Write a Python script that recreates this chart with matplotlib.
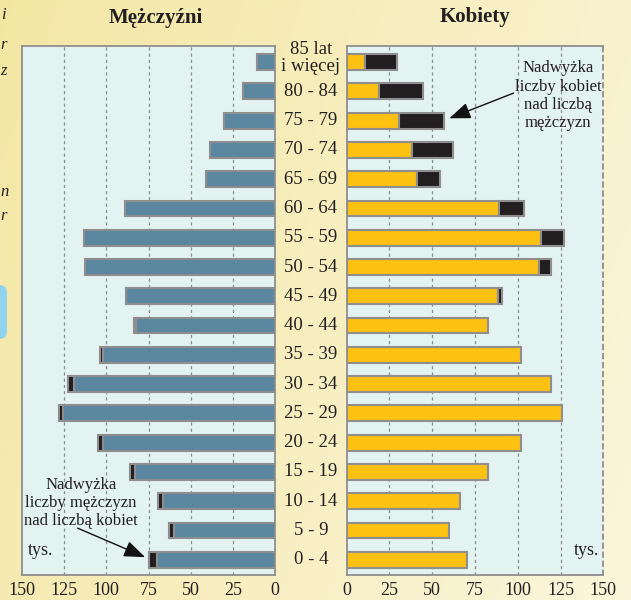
import matplotlib.pyplot as plt
import matplotlib.transforms as mtransforms
import numpy as np
from matplotlib.patches import FancyBboxPatch

# age groups, youngest first
AGES = ['0 - 4', '5 - 9', '10 - 14', '15 - 19', '20 - 24', '25 - 29', '30 - 34',
        '35 - 39', '40 - 44', '45 - 49', '50 - 54', '55 - 59', '60 - 64',
        '65 - 69', '70 - 74', '75 - 79', '80 - 84', '85 lat\ni więcej']
# thousands
MEN = [74.5, 63, 69.3, 85.9, 105.2, 128, 122.7, 104, 83.5, 88.2,
       112.5, 113.5, 88.8, 41, 38.4, 30.5, 19, 10.7]
WOMEN = [70.1, 59.9, 66.4, 82.8, 101.9, 125.6, 119.3, 101.9, 82.4, 91,
         119.7, 127.1, 103.7, 54.7, 62.3, 56.8, 44.7, 29.6]
TICKS = [0, 25, 50, 75, 100, 125, 150]

BLUE = '#5b86a0'
YELLOW = '#fdc112'
BLACK = '#231f20'
EDGE = '#8e8e8e'
PANEL = '#e3f3f2'
INK = '#231f20'
SERIF = ['Liberation Serif', 'DejaVu Serif']

plt.rcParams['font.family'] = SERIF

W, H = 631, 600
fig = plt.figure(figsize=(W / 100, H / 100), dpi=100)

# cream gradient background
bg = fig.add_axes([0, 0, 1, 1], zorder=-10)
gx = np.linspace(0, 1, 200)
GX, GY = np.meshgrid(gx, gx)
t = np.clip(0.75 * GX + 0.25 * GY, 0, 1)
c0 = np.array([0.955, 0.905, 0.64])
c1 = np.array([0.985, 0.962, 0.86])
img = c0[None, None, :] * (1 - t[..., None]) + c1[None, None, :] * t[..., None]
bg.imshow(img, extent=[0, 1, 0, 1], aspect='auto', origin='upper')
bg.set_axis_off()
# bits of the page that show at the left edge
bg.add_patch(FancyBboxPatch((-0.02, 0.44), 0.026, 0.08,
                            boxstyle='round,pad=0.005,rounding_size=0.012',
                            fc='#8fd3ef', ec='none', transform=bg.transAxes))
for yy, ch in [(0.975, 'i'), (0.925, 'r'), (0.882, 'z'), (0.68, 'n'), (0.64, 'r')]:
    bg.text(0.001, yy, ch, fontsize=12, style='italic', color=INK,
            transform=bg.transAxes, ha='left', va='center')

y = np.arange(len(AGES))
bh = 0.54
bottom = 25 / H
height = 529 / H
axL = fig.add_axes([22 / W, bottom, 253 / W, height])
axR = fig.add_axes([346.7 / W, bottom, 256.6 / W, height])

for ax in (axL, axR):
    ax.set_facecolor(PANEL)
    ax.set_xlim(0, 150)
    ax.set_ylim(-0.52, len(AGES) - 1 + 0.55)
    ax.set_xticks(TICKS)
    ax.set_yticks([])
    ax.tick_params(axis='x', length=0, labelsize=13, pad=5, colors=INK)
    ax.set_axisbelow(True)
    for v in TICKS[1:-1]:
        ax.axvline(v, color='#8a8a8a', lw=0.9, ls=(0, (2.5, 2.5)), zorder=0)
    for s in ax.spines.values():
        s.set_color(EDGE)
        s.set_linewidth(1.3)

axL.invert_xaxis()
axR.spines['right'].set_linestyle((0, (2.5, 2.5)))

for i in range(len(AGES)):
    m, w = MEN[i], WOMEN[i]
    low = min(m, w)
    axL.barh(y[i], low, height=bh, color=BLUE, edgecolor=EDGE, lw=1.5, zorder=3)
    if m > w:
        axL.barh(y[i], m - w, left=low, height=bh, color=BLACK, edgecolor=EDGE, lw=1.5, zorder=3)
    axR.barh(y[i], low, height=bh, color=YELLOW, edgecolor=EDGE, lw=1.5, zorder=3)
    if w > m:
        axR.barh(y[i], w - m, left=low, height=bh, color=BLACK, edgecolor=EDGE, lw=1.5, zorder=3)

# age labels between panels
lab_tr = mtransforms.blended_transform_factory(fig.transFigure, axL.transData)
for i, lab in enumerate(AGES):
    yy = y[i] + (0.14 if '\n' in lab else 0)
    fig.text(311 / W, yy, lab, transform=lab_tr, ha='center', va='center',
             fontsize=13.5, color=INK, linespacing=1.05)

fig.text(156 / W, 1 - 18 / H, 'Mężczyźni', ha='center', va='center',
         fontsize=15, fontweight='bold', color=INK)
fig.text(475 / W, 1 - 17 / H, 'Kobiety', ha='center', va='center',
         fontsize=15, fontweight='bold', color=INK)

axL.text(0.025, 0.03, 'tys.', transform=axL.transAxes, ha='left', va='bottom',
         fontsize=13, color=INK)
axR.text(0.985, 0.03, 'tys.', transform=axR.transAxes, ha='right', va='bottom',
         fontsize=13, color=INK)

# annotations
head = '-|>,head_length=1.3,head_width=0.5'
axR.text(123.5, 15.85, 'Nadwyżka\nliczby kobiet\nnad liczbą\nmężczyzn',
         ha='center', va='center', fontsize=12, color=INK, linespacing=1.2)
axR.annotate('', xy=(60, 15.08), xytext=(97.5, 15.94),
             arrowprops=dict(arrowstyle=head, color='#111111', lw=1.0,
                             shrinkA=0, shrinkB=0))
axL.text(115, 1.94, 'Nadwyżka\nliczby mężczyzn\nnad liczbą kobiet',
         ha='center', va='center', fontsize=12, color=INK, linespacing=1.2)
axL.annotate('', xy=(77, 0.09), xytext=(117, 1.08),
             arrowprops=dict(arrowstyle=head, color='#111111', lw=1.0,
                             shrinkA=0, shrinkB=0))

fig.savefig('out.png', dpi=100)
